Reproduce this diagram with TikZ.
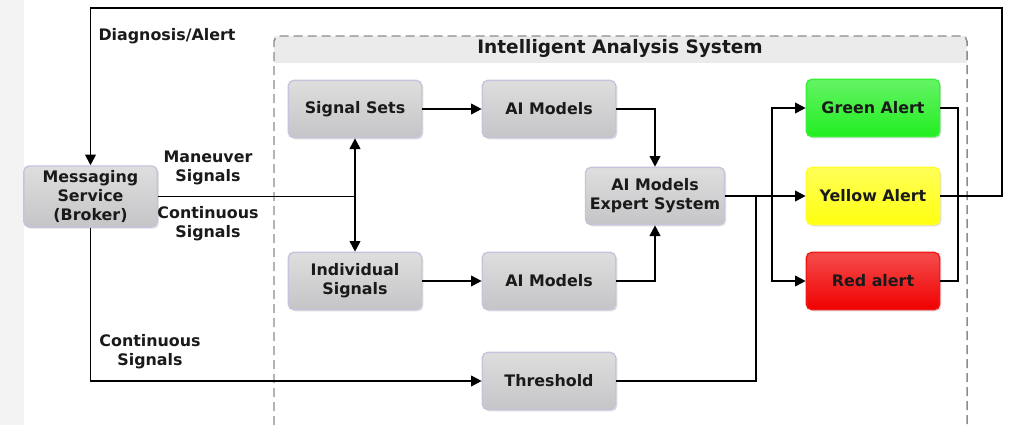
\documentclass[tikz,border=0pt]{standalone}
\usepackage{fontspec}
\setmainfont{DejaVu Sans}
\usepackage{tikz}
\usetikzlibrary{arrows.meta, positioning, shadows}
\definecolor{boxtop}{HTML}{DEDEDF}
\definecolor{boxbottom}{HTML}{C5C5C7}
\definecolor{boxedge}{HTML}{C4C4DC}
\definecolor{textdark}{HTML}{1A1A1A}
\definecolor{dashgray}{HTML}{8C8C8C}
\definecolor{bandgray}{HTML}{EBEBEB}
\definecolor{stripgray}{HTML}{F3F3F4}
\definecolor{alertgreen}{HTML}{22EE22}
\definecolor{alertyellow}{HTML}{FFFF11}
\definecolor{alertred}{HTML}{F00000}

\begin{document}
\begin{tikzpicture}[
    x=0.75pt, y=-0.75pt,
    procbox/.style={rectangle, rounded corners=4pt, draw=boxedge, line width=1pt,
        top color=boxtop, bottom color=boxbottom, minimum width=100pt, minimum height=43pt,
        align=center, text=textdark, font=\fontsize{11.9}{14.3}\selectfont\bfseries,
        drop shadow={shadow xshift=1.2pt, shadow yshift=-1.2pt, opacity=0.25}},
    alertbox/.style={procbox, draw=#1!90!white, top color=#1!70!white, bottom color=#1},
    lbl/.style={align=center, text=textdark, font=\fontsize{11.9}{14.3}\selectfont\bfseries},
    wire/.style={line width=1.4pt, draw=black},
    flow/.style={wire, -{Triangle[length=8pt, width=8pt]}},
]

% Page and margins
\useasboundingbox (0,0) rectangle (1012,425);
\fill[white] (0,0) rectangle (1012,425);
\fill[stripgray] (0,0) rectangle (24,425);

% Analysis system frame
\fill[bandgray] (274,36) rectangle (967,63);
\draw[dashgray, line width=1.1pt, dash pattern=on 6.75pt off 3.75pt, rounded corners=4pt]
    (274,425) -- (274,36) -- (967,36) -- (967,425);
\node[lbl, font=\fontsize{13.9}{16}\selectfont\bfseries] (title) at (620,48) {Intelligent Analysis System};

% Broker
\node[procbox] (msg) at (90.5,196.5) {Messaging\\Service\\(Broker)};

% Inputs
\node[procbox] (sigsets) at (355,109) {Signal Sets};
\node[procbox] (indiv) at (355,281) {Individual\\Signals};

% Models
\node[procbox] (aitop) at (549,109) {AI Models};
\node[procbox] (aibot) at (549,281) {AI Models};
\node[procbox] (expert) at (655,196) {AI Models\\Expert System};
\node[procbox] (thresh) at (549,381) {Threshold};

% Alerts
\node[alertbox=alertgreen] (green) at (873,108) {Green Alert};
\node[alertbox=alertyellow] (yellow) at (873,196) {Yellow Alert};
\node[alertbox=alertred] (red) at (873,281) {Red alert};

% Junction points
\coordinate (jct) at (sigsets.south |- msg.east);
\coordinate (merge) at (756,196);
\coordinate (split) at (772,196);
\coordinate (outbus) at (958,196);
\coordinate (fbcorner) at (1002,8);

% Broker to inputs
\draw[wire] (msg.east) -- (jct);
\draw[flow] (jct) -- (sigsets.south);
\draw[flow] (jct) -- (indiv.north);
\draw[flow] (msg.south) |- (thresh.west);

% Inputs to models
\draw[flow] (sigsets) -- (aitop);
\draw[flow] (indiv) -- (aibot);
\draw[flow] (aitop.east) -| (expert.north);
\draw[flow] (aibot.east) -| (expert.south);

% Models to alerts
\draw[flow] (expert) -- (yellow);
\draw[wire] (thresh.east) -| (merge);
\draw[flow] (split) |- (green.west);
\draw[flow] (split) |- (red.west);

% Alerts back to broker
\draw[wire] (green.east) -| (outbus) |- (red.east);
\draw[flow] (yellow.east) -| (fbcorner) -| (msg.north);

% Labels
\node[lbl] (diag) at (167,36) {Diagnosis/Alert};
\node[lbl] (manlbl) at (208,168) {Maneuver\\Signals};
\node[lbl] (contlbl) at (208,224) {Continuous\\Signals};
\node[lbl] (contlow) at (150,352) {Continuous\\Signals};

\end{tikzpicture}
\end{document}
